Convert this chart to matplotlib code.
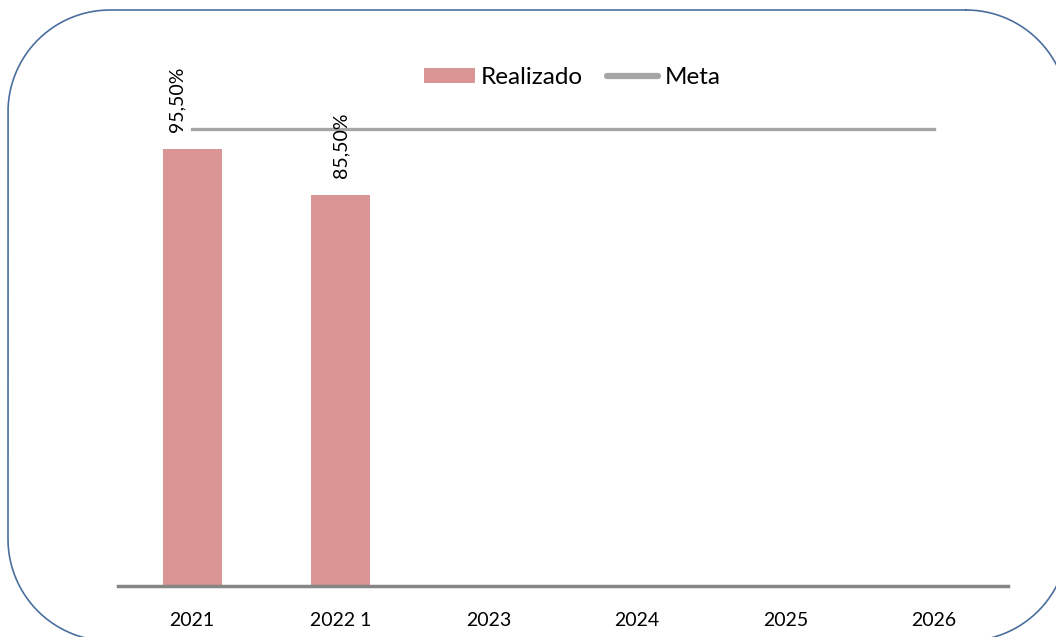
import matplotlib
matplotlib.use("Agg")
import numpy as np
import matplotlib.pyplot as plt
from matplotlib.patches import Patch
from matplotlib.lines import Line2D

categories = ["2021", "2022 1", "2023", "2024", "2025", "2026"]
realizado = [95.5, 85.5]
labels = ["95,50%", "85,50%"]
meta = [100, 100, 100, 100, 100, 100]

plt.rcParams['font.family'] = ['Lato', 'DejaVu Sans']

W, H = 1056, 637
fig = plt.figure(figsize=(W / 100, H / 100), dpi=100)
ax = fig.add_axes([118 / W, (H - 586) / H, 890 / W, 549 / H])

x = list(range(len(categories)))
bar_color = "#D99694"
meta_color = "#A6A6A6"
ax.bar(x[:len(realizado)], realizado, width=0.4, color=bar_color, zorder=2)
ax.plot(x, meta, color=meta_color, linewidth=2.4, solid_capstyle="projecting", zorder=3)

offsets = [-11, 0]
for i, (v, lab) in enumerate(zip(realizado, labels)):
    ax.annotate(lab, (x[i], v), xytext=(offsets[i], 12), textcoords="offset points",
                rotation=90, ha="center", va="bottom", fontsize=14, color="#000000")

ax.set_xlim(-0.5, len(categories) - 0.5)
ax.set_ylim(0, 120)
ax.set_xticks(x)
ax.set_xticklabels(categories, fontsize=14)
ax.tick_params(axis="x", length=0, pad=19)
ax.set_yticks([])
for s in ["top", "left", "right"]:
    ax.spines[s].set_visible(False)
ax.spines["bottom"].set_color("#868686")
ax.spines["bottom"].set_linewidth(2.5)
ax.patch.set_alpha(0)

handles = [Patch(facecolor=bar_color, edgecolor="none"),
           Line2D([0], [0], color=meta_color, linewidth=4.5, solid_capstyle="round")]
fig.legend(handles, ["Realizado", "Meta"], loc="center", bbox_to_anchor=(572 / W, 1 - 78 / H),
           ncol=2, frameon=False, fontsize=17.5, handlelength=2.1, handleheight=0.58,
           handletextpad=0.25, columnspacing=1.0)

# rounded frame (pixel coords from top-left, converted to figure fraction)
left, right, top, bottom, r = 8, 1068, 10, 641, 102
corners = [(right - r, top + r, -90, 0), (right - r, bottom - r, 0, 90),
           (left + r, bottom - r, 90, 180), (left + r, top + r, 180, 270)]
px, py = [], []
for cx, cy, a0, a1 in corners:
    t = np.radians(np.linspace(a0, a1, 120))
    px.extend(cx + r * np.cos(t))
    py.extend(cy + r * np.sin(t))
px.append(px[0]); py.append(py[0])
px = np.array(px, dtype=float)
py = np.array(py, dtype=float)
outside = (px > W + 1) | (py > H + 1)
px[outside] = np.nan
py[outside] = np.nan
fig.add_artist(Line2D(px / W, 1 - py / H, transform=fig.transFigure,
                      color="#4A6F9E", linewidth=1.2))

fig.savefig("out.png", dpi=100)
